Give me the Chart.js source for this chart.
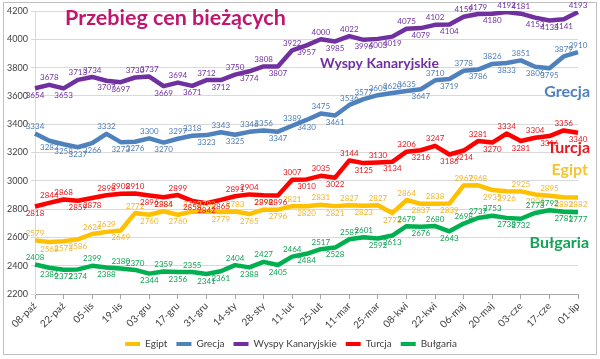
<!DOCTYPE html>
<html>
<head>
<meta charset="utf-8">
<script src="https://cdn.jsdelivr.net/npm/chart.js@4.4.1/dist/chart.umd.min.js"></script>
<style>
  html, body { margin: 0; padding: 0; background: #ffffff; }
  #wrap { position: relative; width: 600px; height: 359px; }
</style>
</head>
<body>
<div id="wrap"><canvas id="c" width="600" height="359"></canvas></div>
<script>
// ---- data ----
const categories = ['08-paź','15-paź','22-paź','29-paź','05-lis','12-lis','19-lis','26-lis','03-gru','10-gru',
  '17-gru','24-gru','31-gru','07-sty','14-sty','21-sty','28-sty','04-lut','11-lut','18-lut',
  '25-lut','04-mar','11-mar','18-mar','25-mar','01-kwi','08-kwi','15-kwi','22-kwi','29-kwi',
  '06-maj','13-maj','20-maj','27-maj','03-cze','10-cze','17-cze','24-cze','01-lip'];
const seriesNames = ['Egipt','Grecja','Wyspy Kanaryjskie','Turcja','Bułgaria'];
const egipt = [2579,2568,2573,2586,2624,2639,2649,2772,2760,2785,2760,2782,2783,2779,2783,2765,2796,2796,2821,2820,
  2831,2821,2827,2823,2827,2772,2864,2837,2838,2839,2967,2968,2935,2926,2925,2904,2895,2883,2882];
const grecja = [3334,3283,3258,3237,3266,3332,3273,3276,3300,3270,3297,3318,3323,3343,3325,3346,3356,3347,3389,3430,
  3475,3461,3536,3577,3605,3620,3635,3647,3710,3719,3778,3786,3826,3833,3851,3806,3795,3879,3910];
const wyspy = [3654,3678,3653,3713,3734,3707,3697,3730,3737,3669,3694,3671,3712,3712,3750,3774,3808,3807,3922,3957,
  4000,3985,4022,3996,4003,4019,4075,4079,4102,4104,4159,4179,4180,4192,4181,4153,4133,4141,4193];
const turcja = [2818,2844,2868,2859,2878,2898,2908,2910,2896,2884,2899,2858,2842,2865,2891,2904,2898,2896,3007,3010,
  3035,3022,3144,3125,3130,3134,3206,3216,3247,3186,3214,3281,3270,3334,3281,3304,3316,3356,3340];
const bulgaria = [2408,2386,2372,2374,2399,2388,2380,2370,2344,2359,2356,2355,2341,2361,2404,2388,2427,2405,2464,2484,
  2517,2528,2587,2601,2592,2613,2679,2676,2680,2643,2698,2737,2753,2738,2732,2773,2792,2781,2777];
const yTicks = [2200,2400,2600,2800,3000,3200,3400,3600,3800,4000,4200];
const titleText = 'Przebieg cen bieżących';

// ---- styles ----
const lineColors = ['#FFC000','#4F81BD','#7030A0','#FF0000','#00B050'];
const labelColors = ['#F2B52E','#4F7DB8','#7030A0','#E8161B','#13A356'];
const FONT = 'Lato, "Liberation Sans", sans-serif';

const values = [egipt, grecja, wyspy, turcja, bulgaria];
const datasets = values.map((v, i) => ({
  label: seriesNames[i],
  data: v,
  borderColor: lineColors[i],
  backgroundColor: lineColors[i],
  borderWidth: 4.5,
  pointRadius: 0,
  tension: 0,
  fill: false,
  borderJoinStyle: 'round',
  labelColor: labelColors[i],
  order: i
}));

const frame = {
  id: 'frame',
  beforeDraw(chart) {
    const c = chart.ctx;
    c.save();
    c.fillStyle = '#ffffff';
    c.fillRect(0, 0, chart.width, chart.height);
    c.strokeStyle = '#BFBFBF';
    c.lineWidth = 1;
    c.strokeRect(3.5, 2.5, 593, 352);
    c.restore();
  }
};

const dataLabels = {
  id: 'dataLabels',
  afterDatasetsDraw(chart) {
    const c = chart.ctx;
    c.save();
    c.font = '8px ' + FONT;
    c.textAlign = 'center';
    chart.data.datasets.forEach((ds, di) => {
      const meta = chart.getDatasetMeta(di);
      const arr = ds.data;
      meta.data.forEach((pt, i) => {
        const v = arr[i];
        const prev = i > 0 ? arr[i - 1] : arr[i + 1];
        const next = i < arr.length - 1 ? arr[i + 1] : arr[i - 1];
        const above = v >= (prev + next) / 2;
        c.fillStyle = ds.labelColor;
        c.textBaseline = above ? 'bottom' : 'top';
        c.fillText(String(v), pt.x, above ? pt.y - 3 : pt.y + 3);
      });
    });
    c.restore();
  }
};

const annotations = {
  id: 'annotations',
  afterDraw(chart) {
    const c = chart.ctx;
    c.save();
    c.textBaseline = 'middle';
    c.font = 'bold 21.5px ' + FONT;
    c.fillStyle = '#C0166E';
    c.textAlign = 'left';
    c.fillText(titleText, 65, 18);
    c.font = 'bold 14px ' + FONT;
    c.fillStyle = '#7030A0';
    c.fillText(seriesNames[2], 320, 63);
    c.font = 'bold 16px ' + FONT;
    c.textAlign = 'right';
    c.fillStyle = '#4F81BD';
    c.fillText(seriesNames[1], 590, 92);
    c.fillStyle = '#E8161B';
    c.fillText(seriesNames[3], 590, 148);
    c.fillStyle = '#F7C431';
    c.fillText(seriesNames[0], 588, 170);
    c.fillStyle = '#13A356';
    c.fillText(seriesNames[4], 589, 243);
    c.restore();
  }
};

new Chart(document.getElementById('c'), {
  type: 'line',
  data: { labels: categories, datasets },
  options: {
    responsive: false,
    animation: false,
    devicePixelRatio: 1,
    layout: { padding: { left: 4, right: 22, top: 11, bottom: 0 } },
    plugins: {
      legend: {
        position: 'bottom',
        labels: {
          boxWidth: 15,
          boxHeight: 4,
          padding: 9,
          color: '#404040',
          font: { family: FONT, size: 10 },
          generateLabels(chart) {
            return Chart.defaults.plugins.legend.labels.generateLabels(chart).map(it => {
              it.lineWidth = 0;
              it.strokeStyle = 'transparent';
              return it;
            });
          }
        }
      },
      tooltip: { enabled: false },
      title: { display: false }
    },
    scales: {
      x: {
        offset: false,
        grid: {
          drawOnChartArea: false,
          drawTicks: true,
          tickLength: 5,
          color: ctx => (ctx.index % 2 === 0 ? '#A6A6A6' : 'rgba(0,0,0,0)')
        },
        border: { color: '#A6A6A6' },
        ticks: {
          autoSkip: false,
          maxRotation: 45,
          minRotation: 45,
          color: '#404040',
          font: { family: FONT, size: 10 },
          padding: 1,
          callback: function(val, idx) { return idx % 2 === 0 ? this.getLabelForValue(val) : ''; }
        },
        afterFit(s) { s.height = 36; }
      },
      y: {
        min: yTicks[0],
        max: yTicks[yTicks.length - 1],
        afterBuildTicks(s) { s.ticks = yTicks.map(v => ({ value: v })); },
        grid: { color: '#D9D9D9', tickLength: 4, drawTicks: true },
        border: { display: true, color: '#D9D9D9' },
        ticks: {
          color: '#404040',
          font: { family: FONT, size: 9 },
          padding: 3,
          callback: v => String(v)
        },
        afterFit(s) { s.width = 31; }
      }
    }
  },
  plugins: [frame, dataLabels, annotations]
});
</script>
</body>
</html>
